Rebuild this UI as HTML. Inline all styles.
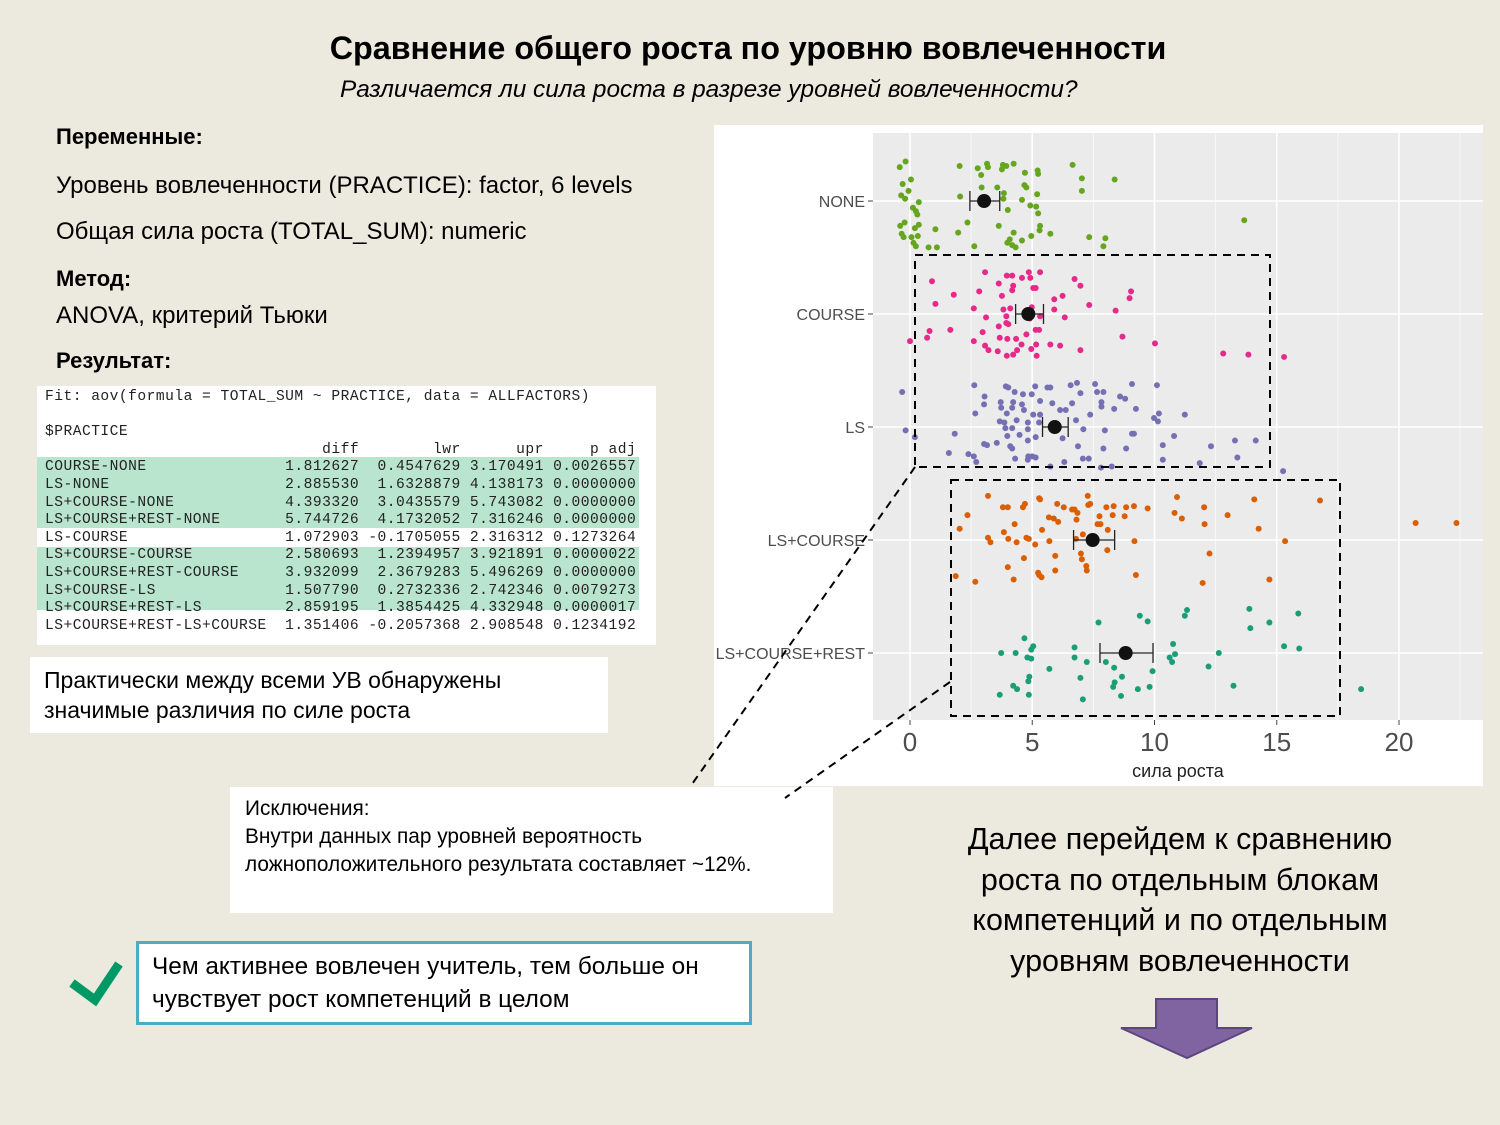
<!DOCTYPE html>
<html><head><meta charset="utf-8">
<style>
body{margin:0;width:1500px;height:1125px;background:#ECE9DF;position:relative;overflow:hidden;font-family:"Liberation Sans","DejaVu Sans",sans-serif;color:#000}
.a{position:absolute;white-space:nowrap}
.mono{font-family:"Liberation Mono",monospace;font-size:14.6px;letter-spacing:0.48px;color:#222;line-height:17.6px;white-space:pre}
</style></head><body>
<div class="a" style="left:0;width:1496px;text-align:center;top:30px;font-size:32.3px;font-weight:bold">Сравнение общего роста по уровню вовлеченности</div>
<div class="a" style="left:340px;top:76px;font-size:24.4px;font-style:italic">Различается ли сила роста в разрезе уровней вовлеченности?</div>
<div class="a" style="left:56px;top:124px;font-size:22px;font-weight:bold">Переменные:</div>
<div class="a" style="left:56px;top:172px;font-size:24px">Уровень вовлеченности (PRACTICE): factor, 6 levels</div>
<div class="a" style="left:56px;top:218px;font-size:24px">Общая сила роста (TOTAL_SUM): numeric</div>
<div class="a" style="left:56px;top:266px;font-size:22px;font-weight:bold">Метод:</div>
<div class="a" style="left:56px;top:302px;font-size:24px">ANOVA, критерий Тьюки</div>
<div class="a" style="left:56px;top:348px;font-size:22px;font-weight:bold">Результат:</div>

<div class="a" style="left:37px;top:386px;width:619px;height:259px;background:#fff">
<div style="position:absolute;left:0;top:71px;width:602px;height:71px;background:#b9e5cf"></div>
<div style="position:absolute;left:0;top:161px;width:602px;height:63px;background:#b9e5cf"></div>
<div class="mono" style="position:absolute;left:8px;top:3px">Fit: aov(formula = TOTAL_SUM ~ PRACTICE, data = ALLFACTORS)

$PRACTICE
                              diff        lwr      upr     p adj
COURSE-NONE               1.812627  0.4547629 3.170491 0.0026557
LS-NONE                   2.885530  1.6328879 4.138173 0.0000000
LS+COURSE-NONE            4.393320  3.0435579 5.743082 0.0000000
LS+COURSE+REST-NONE       5.744726  4.1732052 7.316246 0.0000000
LS-COURSE                 1.072903 -0.1705055 2.316312 0.1273264
LS+COURSE-COURSE          2.580693  1.2394957 3.921891 0.0000022
LS+COURSE+REST-COURSE     3.932099  2.3679283 5.496269 0.0000000
LS+COURSE-LS              1.507790  0.2732336 2.742346 0.0079273
LS+COURSE+REST-LS         2.859195  1.3854425 4.332948 0.0000017
LS+COURSE+REST-LS+COURSE  1.351406 -0.2057368 2.908548 0.1234192</div>
</div>

<div class="a" style="left:30px;top:657px;width:578px;height:76px;background:#fff"></div>
<div class="a" style="left:44px;top:665px;font-size:23px;line-height:30px">Практически между всеми УВ обнаружены<br>значимые различия по силе роста</div>

<div class="a" style="left:230px;top:787px;width:603px;height:126px;background:#fff"></div>
<div class="a" style="left:245px;top:795px;font-size:20.8px;line-height:28px">Исключения:<br>Внутри данных пар уровней вероятность<br>ложноположительного результата составляет ~12%.</div>

<div class="a" style="left:136px;top:941px;width:610px;height:78px;background:#fff;border:3px solid #4bacc6"></div>
<div class="a" style="left:152px;top:950px;font-size:24.4px;line-height:33px">Чем активнее вовлечен учитель, тем больше он<br>чувствует рост компетенций в целом</div>

<div class="a" style="left:880px;top:819px;width:600px;text-align:center;font-size:30.5px;line-height:40.5px">Далее перейдем к сравнению<br>роста по отдельным блокам<br>компетенций и по отдельным<br>уровням вовлеченности</div>

<svg id="s" width="1500" height="1125" style="position:absolute;left:0;top:0" xmlns="http://www.w3.org/2000/svg">
<path d="M72 983 L95 1000 L119 964" fill="none" stroke="#009966" stroke-width="9"/>
<path d="M1156 999 H1217 V1028 H1252 L1187 1058 L1121 1028 H1156 Z" fill="#8064a2" stroke="#5c4580" stroke-width="2"/>
<rect x="714" y="125" width="769" height="661" fill="#fff"/>
<rect x="873" y="133" width="610" height="587" fill="#ebebeb"/>
<g id="grid"></g>
<g id="axes"></g>
<g id="pts"></g>
<g id="means"></g>
<g fill="none" stroke="#000" stroke-width="2" stroke-dasharray="8,6">
<rect x="915" y="255" width="355" height="212"/>
<rect x="951" y="480" width="389" height="236"/>
<line x1="915" y1="467" x2="690" y2="787"/>
<line x1="950" y1="682" x2="785" y2="798"/>
</g>
</svg>
<script>
const categories=["NONE","COURSE","LS","LS+COURSE","LS+COURSE+REST"];
const colors=["#66a61e","#e7298a","#7570b3","#d95f02","#1b9e77"];
const xTicks=[0,5,10,15,20];
const means=[3.03,4.84,5.92,7.47,8.82];
const ciLow=[2.45,4.32,5.42,6.69,7.77];
const ciHigh=[3.67,5.46,6.47,8.37,9.94];
const noneVals=[-0.42,-0.18,0.04,-0.3,-0.06,-0.36,-0.2,0.36,0.12,0.24,0.3,-0.4,-0.22,0.36,0.2,-0.34,-0.26,0.06,0.32,0.14,0.24,0.76,1.1,1.04,2.03,2.77,3.15,3.19,3.8,3.94,4.24,3.76,2.91,4.7,5.22,5.24,6.65,7.03,8.37,2.93,3.57,4.68,4.76,3.84,7.03,2.05,3.82,4.58,5.2,4.92,5.16,4.0,5.24,2.35,3.63,5.32,5.3,1.97,4.24,5.74,4.96,4.08,3.98,4.18,4.32,4.58,7.33,7.99,7.91,2.63,13.67];
const noneJit=[-.30,-.35,-.19,-.15,-.09,-.05,-.02,.01,.06,.09,.12,.22,.19,.21,.24,.29,.32,.32,.31,.37,.40,.41,.41,.25,-.31,-.29,-.33,-.30,-.32,-.31,-.33,-.28,-.23,-.25,-.27,-.24,-.32,-.2,-.19,-.12,-.12,-.14,-.12,-.07,-.09,-.04,-.02,-.01,-.06,.04,.05,.08,.11,.19,.22,.22,.26,.28,.28,.29,.31,.34,.37,.39,.41,.35,.32,.33,.4,.4,.17];
const courseVals=[0.9,3.07,3.63,3.96,4.18,4.58,4.86,4.92,5.32,6.73,6.97,4.22,5.04,5.14,1.79,2.83,3.76,4.18,5.9,6.24,9.04,8.98,1.04,2.61,3.82,4.1,4.98,5.9,7.33,8.41,3.11,3.94,4.9,5.32,6.33,3.63,3.94,5.14,5.28,0.8,1.65,2.97,4.76,8.69,0.7,3.67,3.98,4.34,0,2.61,10.02,3.07,4.56,5.16,5.74,6.14,3.21,3.59,3.96,4.22,4.38,4.96,5.18,6.97,12.81,13.84,15.3,4.02];
const courseJit=[-.29,-.37,-.27,-.34,-.34,-.32,-.37,-.32,-.37,-.31,-.25,-.25,-.23,-.23,-.17,-.2,-.16,-.21,-.13,-.16,-.2,-.14,-.09,-.05,-.04,-.05,-.06,-.04,-.08,-.03,.03,.02,.04,.02,.03,.11,.08,.14,.14,.15,.14,.16,.18,.2,.21,.21,.22,.22,.24,.24,.26,.28,.27,.27,.27,.28,.32,.33,.37,.36,.32,.31,.37,.32,.35,.36,.38,.09];
const lsVals=[2.63,3.92,4.02,5.12,5.62,5.74,6.57,6.83,7.57,9.08,10.1,-0.32,3.05,4.28,4.62,4.98,6.97,7.65,7.91,8.59,8.8,3.03,3.71,4.22,4.58,5.32,5.82,6.63,7.83,3.73,4.18,4.66,5.04,6.14,6.37,7.83,8.35,9.24,2.67,3.96,5.32,7.37,10.18,11.24,3.67,3.86,4.36,4.82,5.28,6.79,9.98,10.14,-0.18,3.9,4.18,4.82,7.09,7.97,0.2,1.83,3.98,4.48,5.14,6.24,9.08,9.16,10.8,3.03,3.15,3.55,4.1,4.18,4.82,6.87,7.91,8.84,10.34,12.31,13.29,14.14,1.59,2.39,2.61,2.71,4.3,4.84,5.0,5.14,5.74,6.31,7.07,7.31,7.81,8.25,10.34,11.85,13.39,15.26,4.82];
const lsJit=[-.37,-.36,-.35,-.36,-.35,-.35,-.37,-.39,-.38,-.38,-.37,-.31,-.27,-.31,-.29,-.29,-.30,-.31,-.31,-.27,-.25,-.2,-.22,-.22,-.2,-.23,-.21,-.21,-.22,-.17,-.17,-.15,-.11,-.15,-.15,-.18,-.16,-.16,-.12,-.12,-.11,-.11,-.12,-.11,-.05,-.04,-.06,-.04,-.04,-.06,-.08,-.05,.03,.01,.01,.02,.02,.03,.09,.06,.08,.07,.09,.1,.06,.06,.08,.15,.16,.14,.17,.19,.12,.17,.19,.19,.16,.17,.12,.12,.23,.24,.26,.31,.28,.26,.26,.27,.35,.31,.28,.28,.36,.35,.29,.32,.27,.39,.29];
const lscVals=[3.19,5.28,5.32,7.27,7.29,7.37,10.92,14.08,16.77,2.35,3.8,4.0,4.62,4.7,6.02,6.29,6.63,6.73,6.85,8.03,8.33,8.84,9.16,9.72,10.82,12.03,12.99,5.68,5.88,6.06,6.81,7.75,8.29,8.78,11.12,2.03,4.28,5.4,7.07,7.67,7.79,8.09,12.05,14.26,20.68,22.35,3.19,3.84,4.02,4.36,4.76,4.86,5.12,5.7,6.79,9.18,15.34,3.29,5.94,6.99,7.03,4.66,12.25,4.0,7.21,7.23,5.94,5.24,5.38,5.28,1.87,4.24,9.24,2.67,11.97,14.7,8.07];
const lscJit=[-.39,-.37,-.36,-.39,-.31,-.32,-.38,-.36,-.35,-.22,-.29,-.29,-.29,-.32,-.32,-.29,-.27,-.27,-.24,-.29,-.3,-.29,-.3,-.28,-.24,-.29,-.22,-.2,-.19,-.16,-.18,-.21,-.22,-.21,-.19,-.1,-.14,-.09,-.05,-.14,-.14,-.09,-.14,-.1,-.15,-.15,-.02,-.07,-.01,.02,-.02,-.01,.04,.01,-.01,.01,.01,.02,.14,.12,.17,.16,.12,.24,.23,.27,.27,.29,.33,.31,.32,.35,.31,.37,.38,.35,.09];
const lscrVals=[13.88,15.88,11.33,11.24,9.4,9.72,7.71,14.7,13.92,4.68,5.04,4.96,6.73,10.76,15.3,15.92,3.73,4.32,4.8,4.96,6.73,10.84,10.62,12.63,7.23,8.01,10.72,8.35,12.21,5.7,9.92,4.88,4.84,6.97,8.67,8.37,4.22,4.38,8.31,9.32,9.8,13.23,18.45,3.67,4.86,7.07,8.63];
const lscrJit=[-.39,-.35,-.38,-.33,-.33,-.28,-.27,-.27,-.22,-.13,-.06,-.03,-.05,-.08,-.06,-.04,0,0,.04,.05,.04,.01,.04,0,.08,.08,.08,.13,.12,.14,.16,.21,.25,.22,.21,.26,.29,.32,.3,.32,.3,.29,.32,.37,.37,.41,.38];
const seriesVals=[noneVals,courseVals,lsVals,lscVals,lscrVals];
const seriesJit=[noneJit,courseJit,lsJit,lscJit,lscrJit];

const NS="http://www.w3.org/2000/svg";
const X0=873,X1=1483,Y0=133,Y1=720;
function xs(v){return 910+v*24.45;}
function ys(i){return 201+i*113;}
function mk(tag,attrs,parent){const e=document.createElementNS(NS,tag);for(const k in attrs)e.setAttribute(k,attrs[k]);parent.appendChild(e);return e;}
const grid=document.getElementById('grid'),axes=document.getElementById('axes'),pts=document.getElementById('pts'),mg=document.getElementById('means');
for(let t=-2.5;t<=22.5;t+=5){const x=xs(t);if(x>X0&&x<X1){const l=mk('line',{x1:x,x2:x,y1:Y0,y2:Y1,stroke:'#f7f7f7','stroke-width':1},grid);

}}
xTicks.forEach(t=>{const x=xs(t);const l=mk('line',{x1:x,x2:x,y1:Y0,y2:Y1,stroke:'#fff','stroke-width':1.6},grid);


const tk=mk('line',{x1:x,x2:x,y1:Y1,y2:Y1+5,stroke:'#444'},axes);


const tx=mk('text',{x:x,y:Y1+31,'text-anchor':'middle','font-size':26,fill:'#4d4d4d','font-family':'Liberation Sans, sans-serif'},axes);tx.textContent=t;

});
categories.forEach((c,i)=>{const y=ys(i);const l=mk('line',{x1:X0,x2:X1,y1:y,y2:y,stroke:'#fff','stroke-width':1.6},grid);


const tk=mk('line',{x1:X0-5,x2:X0,y1:y,y2:y,stroke:'#444'},axes);


const tx=mk('text',{x:X0-8,y:y+6,'text-anchor':'end','font-size':16,fill:'#4d4d4d','font-family':'Liberation Sans, sans-serif'},axes);tx.textContent=c;


seriesVals[i].forEach((v,j)=>{const d=mk('circle',{cx:xs(v),cy:y+seriesJit[i][j]*113,r:3,fill:colors[i]},pts);

});
const cy=y;const a=xs(ciLow[i]),b=xs(ciHigh[i]);
const e=mk('path',{d:`M${a} ${cy-10}V${cy+10}M${b} ${cy-10}V${cy+10}M${a} ${cy}H${b}`,stroke:'#222','stroke-width':1.3,fill:'none'},mg);


const m=mk('circle',{cx:xs(means[i]),cy:cy,r:7,fill:'#111'},mg);

});
const xt=mk('text',{x:1178,y:777,'text-anchor':'middle','font-size':18,fill:'#222','font-family':'Liberation Sans, sans-serif'},axes);xt.textContent='сила роста';


</script>
</body></html>
